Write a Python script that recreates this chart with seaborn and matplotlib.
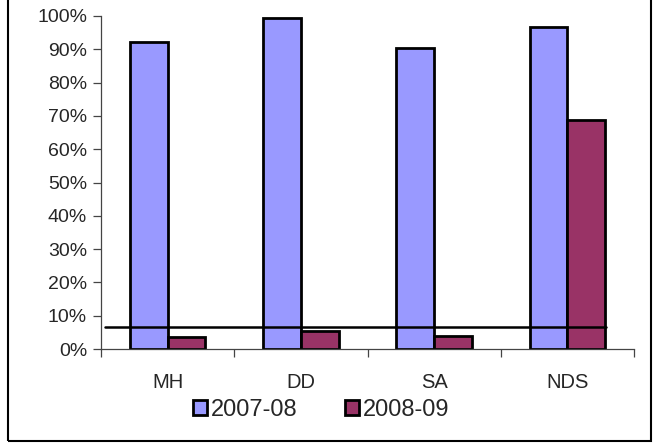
import matplotlib
matplotlib.use("Agg")
import matplotlib.pyplot as plt
import seaborn as sns
import pandas as pd
from matplotlib.patches import Rectangle
from matplotlib.ticker import PercentFormatter

categories = ["MH", "DD", "SA", "NDS"]
series_names = ["2007-08", "2008-09"]
values_2007_08 = [0.922, 0.994, 0.904, 0.967]
values_2008_09 = [0.036, 0.054, 0.039, 0.688]
threshold = 0.066
y_ticks = [0.0, 0.1, 0.2, 0.3, 0.4, 0.5, 0.6, 0.7, 0.8, 0.9, 1.0]

df = pd.DataFrame({
    "category": categories * 2,
    "series": [series_names[0]] * 4 + [series_names[1]] * 4,
    "value": values_2007_08 + values_2008_09,
})

sns.set_theme(style="white")
plt.rcParams["font.family"] = ["Liberation Sans", "DejaVu Sans"]

fig = plt.figure(figsize=(6.54, 4.43), dpi=100)
ax = fig.add_axes([101/654, 1-349/443, 533/654, 333/443])

sns.barplot(data=df, x="category", y="value", hue="series",
            palette=["#9999FF", "#993366"], saturation=1, width=0.565,
            edgecolor="black", linewidth=2.0, ax=ax, legend=True)

ax.axhline(threshold, xmin=0.008, xmax=0.947, color="black", linewidth=1.8, zorder=5)

ax.set_ylim(0, 1.0)
ax.set_xlim(-0.5, 3.5)
ax.set_yticks(y_ticks)
ax.yaxis.set_major_formatter(PercentFormatter(1.0, decimals=0))
ax.set_xlabel("")
ax.set_ylabel("")

for s in ["top", "right"]:
    ax.spines[s].set_visible(False)
for s in ["left", "bottom"]:
    ax.spines[s].set_color("#444444")
    ax.spines[s].set_linewidth(0.9)

ax.set_xticks([-0.5, 0.5, 1.5, 2.5, 3.5])
ax.set_xticklabels([])
ax.set_xticks([0, 1, 2, 3], minor=True)
ax.set_xticklabels(categories, minor=True)
ax.tick_params(axis="x", which="major", length=6, width=0.9, color="#444444", direction="out", bottom=True)
ax.tick_params(axis="x", which="minor", length=0, pad=17, labelsize=14.5)
ax.tick_params(axis="y", length=6, width=0.9, color="#444444", direction="out", left=True, labelsize=14, pad=4)

handles, labels = ax.get_legend_handles_labels()
ax.legend(handles, labels, loc="center", bbox_to_anchor=(321/654, 1-410/443),
          bbox_transform=fig.transFigure, ncol=2, frameon=False, fontsize=17,
          handlelength=0.62, handleheight=0.62, handletextpad=0.15, columnspacing=2.0,
          borderaxespad=0, borderpad=0)

fig.patches.append(Rectangle((8/654, 1-441/443), 643/654, 442/443, transform=fig.transFigure,
                             fill=False, edgecolor="black", linewidth=1.5))

fig.savefig("out.png", dpi=100)
